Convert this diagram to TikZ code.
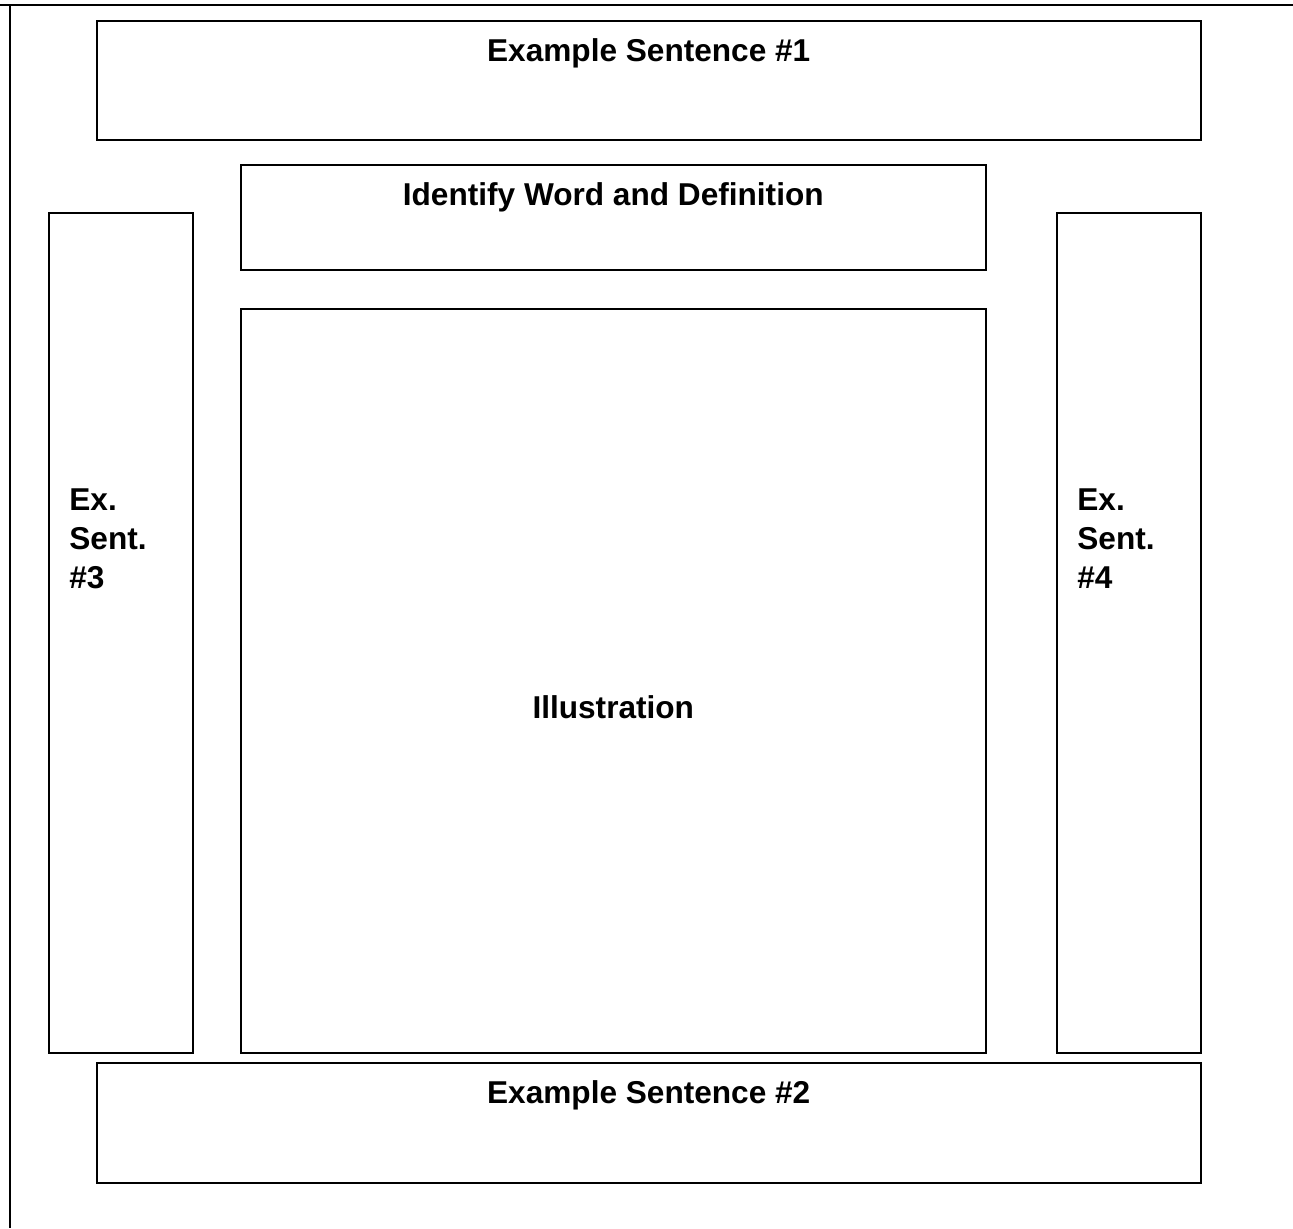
\documentclass[tikz,border=0pt]{standalone}
\usepackage{fontspec}
\setmainfont{Liberation Sans}
\usetikzlibrary{positioning}

\begin{document}
\begin{tikzpicture}[
  x=0.5pt, y=-0.5pt,
  box/.style={rectangle, draw=black, line width=0.75pt, anchor=north west, inner sep=0pt},
  lbl/.style={font=\bfseries\fontsize{15.8}{19.5}\selectfont, inner sep=0pt, align=center},
  side/.style={font=\bfseries\fontsize{15.8}{19.5}\selectfont, inner sep=0pt, align=left}
]
\useasboundingbox (0,0) rectangle (1293,1228);
% page frame
\draw[line width=1pt] (0,5) -- (1293,5);
\draw[line width=1pt] (10,5) -- (10,1228);

% boxes
\node[box, minimum width=552pt, minimum height=59.5pt] (ex1) at (96,20) {};
\node[box, minimum width=372.5pt, minimum height=52.5pt] (ident) at (240,164) {};
\node[box, minimum width=72pt, minimum height=420pt] (sent3) at (48,212) {};
\node[box, minimum width=372.5pt, minimum height=372pt] (illus) at (240,308) {};
\node[box, minimum width=72pt, minimum height=420pt] (sent4) at (1056,212) {};
\node[box, minimum width=552pt, minimum height=60pt] (ex2) at (96,1062) {};

% labels
\node[lbl, below=9pt of ex1.north] (ex1txt) {Example Sentence \#1};
\node[lbl, below=9pt of ident.north] (identtxt) {Identify Word and Definition};
\node[lbl] (illustxt) at ([yshift=-13pt]illus.center) {Illustration};
\node[lbl, below=9pt of ex2.north] (ex2txt) {Example Sentence \#2};
\node[side, below right=138pt and 10.5pt of sent3.north west] (s3txt) {Ex.\\Sent.\\\#3};
\node[side, below right=138pt and 10.5pt of sent4.north west] (s4txt) {Ex.\\Sent.\\\#4};
\end{tikzpicture}
\end{document}
